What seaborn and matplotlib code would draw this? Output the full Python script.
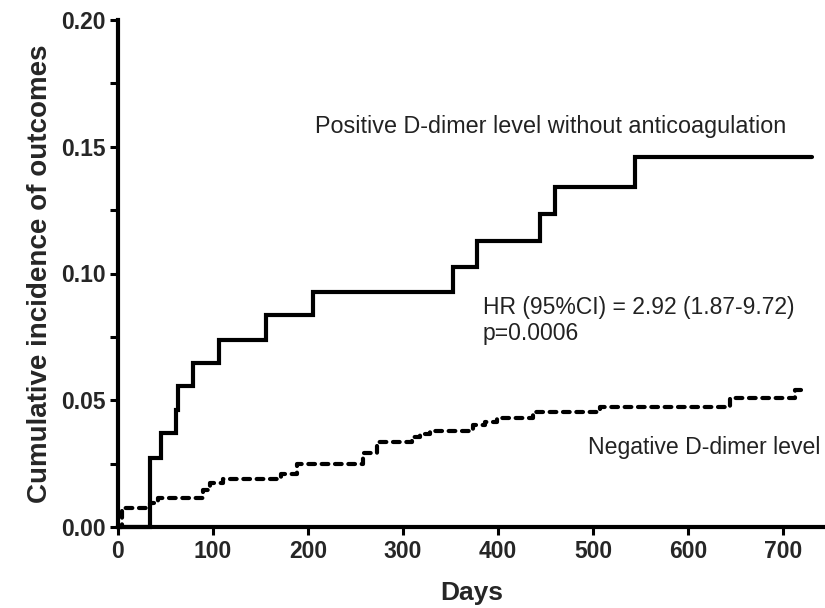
import matplotlib
matplotlib.use("Agg")
import matplotlib.pyplot as plt
import seaborn as sns
import pandas as pd
from matplotlib.ticker import MultipleLocator

# Data (days, cumulative incidence)
pos_days = [0, 33.7, 45, 61, 63, 79, 106, 156, 205, 353, 378, 444, 460, 544, 730]
pos_inc = [0.0, 0.0272, 0.037, 0.046, 0.0556, 0.0647, 0.0738, 0.0837, 0.0927,
           0.1026, 0.1129, 0.1235, 0.134, 0.146, 0.146]

neg_days = [0, 4, 34, 42, 89, 97, 110, 172, 188, 258, 273, 309, 318, 328, 374,
            386, 399, 437, 507, 644, 712, 721]
neg_inc = [0.0, 0.0075, 0.0095, 0.0114, 0.0146, 0.0173, 0.0189, 0.021, 0.025,
           0.029, 0.0335, 0.0355, 0.0367, 0.0379, 0.0402, 0.0414, 0.043, 0.0454,
           0.0474, 0.051, 0.054, 0.054]

x_ticks = [0, 100, 200, 300, 400, 500, 600, 700]
y_ticks = [0.00, 0.05, 0.10, 0.15, 0.20]

pos_label = "Positive D-dimer level without anticoagulation"
neg_label = "Negative D-dimer level"
hr_text = "HR (95%CI) = 2.92 (1.87-9.72)\np=0.0006"

sns.set_style("ticks")
plt.rcParams["font.family"] = ["Liberation Sans", "DejaVu Sans"]

fig = plt.figure(figsize=(8.25, 6.08), dpi=100)
ax = fig.add_axes([118 / 825, 81 / 608, (825 - 118) / 825, (527 - 20) / 608])

pos_df = pd.DataFrame({"Days": pos_days, "inc": pos_inc})
neg_df = pd.DataFrame({"Days": neg_days, "inc": neg_inc})

sns.lineplot(data=pos_df, x="Days", y="inc", ax=ax, estimator=None, sort=False,
             drawstyle="steps-post", color="black", linewidth=3,
             solid_joinstyle="miter", clip_on=False)
sns.lineplot(data=neg_df, x="Days", y="inc", ax=ax, estimator=None, sort=False,
             drawstyle="steps-post", color="black", linewidth=3,
             linestyle=(0, (1.6, 1.6)), dash_capstyle="round", clip_on=False)

ax.set_xlim(0, 744)
ax.set_ylim(0, 0.20)
ax.set_xticks(x_ticks)
ax.set_yticks(y_ticks)
ax.set_xticklabels([str(t) for t in x_ticks], fontsize=16.5, fontweight="bold")
ax.set_yticklabels([f"{t:.2f}" for t in y_ticks], fontsize=16.5, fontweight="bold")
ax.yaxis.set_minor_locator(MultipleLocator(0.025))

for s in ["top", "right"]:
    ax.spines[s].set_visible(False)
for s in ["left", "bottom"]:
    ax.spines[s].set_linewidth(3)
    ax.spines[s].set_color("black")

ax.tick_params(axis="both", which="major", length=6, width=2.2, direction="out",
               color="black", pad=3)
ax.tick_params(axis="y", which="minor", length=6, width=2.2, direction="out",
               color="black")

ax.set_xlabel("Days", fontsize=19, fontweight="bold", labelpad=13)
ax.set_ylabel("Cumulative incidence of outcomes", fontsize=20, fontweight="bold",
              labelpad=6)

ax.text(207, 0.158, pos_label, fontsize=16.8, ha="left", va="center", color="#222222")
ax.text(384, 0.0815, hr_text, fontsize=16.5, ha="left", va="center", color="#222222",
        linespacing=1.2)
ax.text(495, 0.0312, neg_label, fontsize=16.6, ha="left", va="center", color="#222222")

fig.savefig("out.png", dpi=100)
